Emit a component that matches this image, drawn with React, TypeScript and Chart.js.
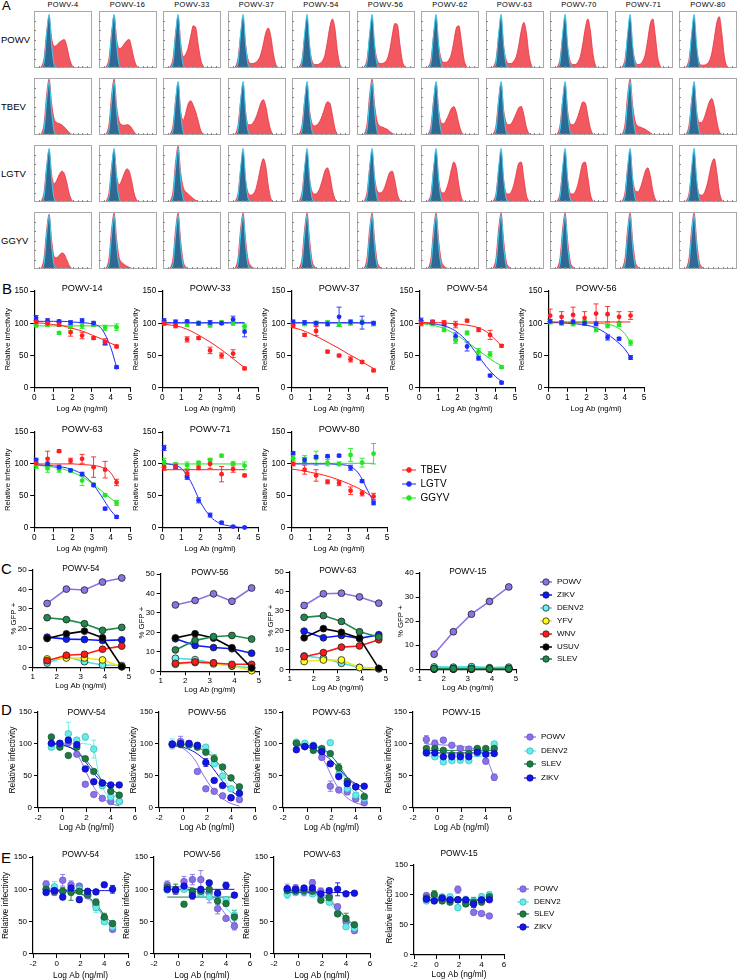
import React, { useEffect, useRef } from "react";
import { Chart, registerables } from "chart.js";
Chart.register(...registerables);

const FONT = "'Liberation Sans', Arial, Helvetica, sans-serif";

// ---------------- Panel A data ----------------
const A_TITLES = ["POWV-4", "POWV-16", "POWV-33", "POWV-37", "POWV-54", "POWV-56", "POWV-62", "POWV-63", "POWV-70", "POWV-71", "POWV-80"];
const A_ROWS = ["POWV", "TBEV", "LGTV", "GGYV"];
const A_BIN = [0, 1, 2, 3, 4, 5, 6, 7, 8, 9, 10, 11, 12, 13, 14, 15, 16, 17, 18, 19, 20, 21, 22, 23];
const A_ISOTYPE = [0, 0, 0, 1, 10, 60, 94, 40, 6, 1, 0, 0, 0, 0, 0, 0, 0, 0, 0, 0, 0, 0, 0, 0];
const A_POWV = [
  [0, 0, 0, 3, 18, 62, 90, 52, 38, 40, 45, 48, 50, 38, 18, 5, 1, 0, 0, 0, 0, 0, 0, 0],
  [0, 0, 0, 3, 18, 62, 92, 50, 34, 36, 42, 48, 50, 34, 14, 3, 0, 0, 0, 0, 0, 0, 0, 0],
  [0, 0, 0, 3, 18, 62, 90, 45, 20, 24, 36, 56, 74, 70, 40, 14, 3, 0, 0, 0, 0, 0, 0, 0],
  [0, 0, 0, 3, 18, 58, 85, 40, 14, 8, 8, 10, 14, 24, 42, 62, 70, 55, 25, 6, 1, 0, 0, 0],
  [0, 0, 0, 3, 16, 55, 82, 36, 12, 6, 6, 8, 12, 22, 45, 72, 86, 70, 30, 6, 1, 0, 0, 0],
  [0, 0, 0, 3, 16, 55, 82, 38, 14, 8, 8, 10, 16, 32, 58, 78, 76, 42, 12, 2, 0, 0, 0, 0],
  [0, 0, 0, 3, 16, 58, 85, 40, 16, 10, 10, 14, 24, 46, 70, 74, 48, 16, 3, 0, 0, 0, 0, 0],
  [0, 0, 0, 3, 16, 56, 84, 38, 14, 8, 8, 12, 20, 40, 66, 80, 62, 24, 5, 0, 0, 0, 0, 0],
  [0, 0, 0, 3, 16, 55, 82, 36, 12, 6, 6, 10, 20, 42, 70, 86, 66, 26, 5, 0, 0, 0, 0, 0],
  [0, 0, 0, 3, 16, 55, 82, 36, 12, 6, 7, 12, 24, 50, 78, 86, 56, 18, 3, 0, 0, 0, 0, 0],
  [0, 0, 0, 3, 16, 54, 80, 34, 10, 5, 5, 7, 12, 26, 52, 80, 90, 60, 20, 3, 0, 0, 0, 0],
];
const A_TBEV = [
  [0, 0, 0, 3, 20, 70, 98, 55, 28, 22, 20, 18, 14, 9, 4, 1, 0, 0, 0, 0, 0, 0, 0, 0],
  [0, 0, 0, 3, 20, 70, 98, 50, 24, 18, 17, 18, 17, 12, 5, 1, 0, 0, 0, 0, 0, 0, 0, 0],
  [0, 0, 0, 3, 18, 62, 90, 42, 26, 38, 55, 60, 52, 40, 24, 8, 2, 0, 0, 0, 0, 0, 0, 0],
  [0, 0, 0, 3, 18, 60, 88, 40, 18, 18, 22, 30, 42, 56, 62, 50, 26, 8, 1, 0, 0, 0, 0, 0],
  [0, 0, 0, 3, 18, 60, 88, 42, 20, 16, 18, 24, 34, 48, 58, 56, 36, 12, 2, 0, 0, 0, 0, 0],
  [0, 0, 0, 3, 20, 70, 98, 52, 24, 16, 14, 12, 10, 6, 3, 1, 0, 0, 0, 0, 0, 0, 0, 0],
  [0, 0, 0, 3, 18, 62, 90, 44, 22, 20, 26, 36, 46, 50, 40, 20, 6, 1, 0, 0, 0, 0, 0, 0],
  [0, 0, 0, 3, 18, 62, 90, 44, 22, 18, 20, 28, 38, 48, 50, 36, 14, 3, 0, 0, 0, 0, 0, 0],
  [0, 0, 0, 3, 18, 60, 88, 42, 20, 18, 22, 32, 46, 58, 56, 34, 12, 2, 0, 0, 0, 0, 0, 0],
  [0, 0, 0, 3, 20, 70, 98, 52, 24, 16, 14, 12, 10, 7, 4, 1, 0, 0, 0, 0, 0, 0, 0, 0],
  [0, 0, 0, 3, 18, 60, 88, 42, 22, 22, 30, 44, 58, 64, 50, 24, 6, 1, 0, 0, 0, 0, 0, 0],
];
const A_LGTV = [
  [0, 0, 0, 3, 18, 62, 90, 48, 32, 38, 48, 54, 50, 34, 14, 3, 0, 0, 0, 0, 0, 0, 0, 0],
  [0, 0, 0, 3, 18, 62, 90, 46, 30, 38, 50, 58, 54, 36, 14, 3, 0, 0, 0, 0, 0, 0, 0, 0],
  [0, 0, 0, 3, 20, 70, 98, 52, 26, 18, 14, 10, 6, 3, 1, 0, 0, 0, 0, 0, 0, 0, 0, 0],
  [0, 0, 0, 3, 16, 56, 84, 38, 16, 12, 14, 22, 40, 62, 76, 62, 28, 6, 1, 0, 0, 0, 0, 0],
  [0, 0, 0, 3, 18, 58, 86, 40, 18, 14, 16, 24, 38, 54, 60, 48, 22, 6, 1, 0, 0, 0, 0, 0],
  [0, 0, 0, 3, 18, 60, 88, 42, 20, 16, 18, 26, 40, 52, 54, 38, 14, 3, 0, 0, 0, 0, 0, 0],
  [0, 0, 0, 3, 16, 58, 86, 40, 18, 16, 22, 36, 56, 70, 60, 30, 8, 1, 0, 0, 0, 0, 0, 0],
  [0, 0, 0, 3, 16, 56, 84, 38, 16, 14, 18, 30, 50, 68, 70, 42, 12, 2, 0, 0, 0, 0, 0, 0],
  [0, 0, 0, 3, 16, 56, 84, 38, 16, 14, 18, 30, 50, 68, 70, 44, 14, 2, 0, 0, 0, 0, 0, 0],
  [0, 0, 0, 3, 18, 60, 88, 42, 20, 18, 24, 38, 54, 60, 46, 20, 5, 1, 0, 0, 0, 0, 0, 0],
  [0, 0, 0, 3, 16, 54, 82, 36, 14, 12, 16, 28, 48, 68, 76, 52, 18, 3, 0, 0, 0, 0, 0, 0],
];
const A_GGYV = [
  [0, 0, 0, 3, 20, 68, 96, 50, 22, 20, 24, 28, 26, 16, 6, 1, 0, 0, 0, 0, 0, 0, 0, 0],
  [0, 0, 0, 3, 20, 70, 98, 52, 20, 12, 8, 5, 3, 1, 0, 0, 0, 0, 0, 0, 0, 0, 0, 0],
  [0, 0, 0, 3, 20, 70, 98, 50, 14, 4, 1, 0, 0, 0, 0, 0, 0, 0, 0, 0, 0, 0, 0, 0],
  [0, 0, 0, 3, 20, 70, 98, 50, 16, 6, 2, 1, 0, 0, 0, 0, 0, 0, 0, 0, 0, 0, 0, 0],
  [0, 0, 0, 3, 20, 70, 98, 50, 14, 4, 1, 0, 0, 0, 0, 0, 0, 0, 0, 0, 0, 0, 0, 0],
  [0, 0, 0, 3, 20, 70, 98, 50, 14, 4, 1, 0, 0, 0, 0, 0, 0, 0, 0, 0, 0, 0, 0, 0],
  [0, 0, 0, 3, 20, 70, 98, 50, 16, 6, 2, 1, 0, 0, 0, 0, 0, 0, 0, 0, 0, 0, 0, 0],
  [0, 0, 0, 3, 20, 70, 98, 50, 14, 4, 1, 0, 0, 0, 0, 0, 0, 0, 0, 0, 0, 0, 0, 0],
  [0, 0, 0, 3, 20, 70, 98, 50, 14, 4, 1, 0, 0, 0, 0, 0, 0, 0, 0, 0, 0, 0, 0, 0],
  [0, 0, 0, 3, 20, 70, 98, 50, 14, 4, 1, 0, 0, 0, 0, 0, 0, 0, 0, 0, 0, 0, 0, 0],
  [0, 0, 0, 3, 20, 70, 98, 50, 14, 4, 1, 0, 0, 0, 0, 0, 0, 0, 0, 0, 0, 0, 0, 0],
];

// ---------------- Panel B data ----------------
const B_X = [0.1, 0.7, 1.3, 1.9, 2.5, 3.1, 3.7, 4.3];
const B_FIT_X = [0, 0.5, 1, 1.5, 2, 2.5, 3, 3.5, 4, 4.3];
const B_VIRUSES = ["TBEV", "LGTV", "GGYV"];
const B_TITLES = ["POWV-14", "POWV-33", "POWV-37", "POWV-54", "POWV-56", "POWV-63", "POWV-71", "POWV-80"];
const B_TBEV = [
  [102, 100, 98, 86, 81, 77, 71, 64],
  [100, 96, 75, 77, 58, 50, 53, 30],
  [96, 82, 88, 56, 50, 44, 40, 27],
  [100, 102, 101, 98, 104, 90, 82, 65],
  [112, 110, 113, 108, 115, 114, 110, 112],
  [101, 108, 120, 105, 108, 95, 91, 71],
  [95, 96, 85, 94, 100, 84, 92, 82],
  [100, 91, 82, 72, 70, 58, 54, 49],
];
const B_TBEV_ERR = [
  [3, 3, 3, 6, 5, 2, 5, 2],
  [3, 3, 4, 2, 5, 4, 6, 2],
  [3, 2, 7, 2, 2, 4, 2, 2],
  [4, 3, 3, 5, 2, 3, 7, 2],
  [10, 8, 12, 10, 15, 12, 8, 6],
  [6, 12, 2, 4, 7, 16, 13, 5],
  [5, 4, 5, 3, 7, 12, 5, 2],
  [3, 7, 9, 3, 4, 6, 4, 5],
];
const B_LGTV = [
  [108, 104, 103, 101, 104, 100, 70, 32],
  [104, 102, 103, 100, 101, 100, 106, 87],
  [102, 101, 100, 99, 110, 102, 101, 100],
  [104, 101, 99, 80, 64, 46, 19, 8],
  [103, 101, 102, 100, 99, 78, 76, 47],
  [106, 100, 95, 90, 84, 67, 30, 17],
  [125, 96, 79, 43, 20, 8, 2, 0.5],
  [117, 106, 111, 112, 113, 94, 73, 39],
];
const B_LGTV_ERR = [
  [4, 3, 2, 3, 3, 3, 3, 2],
  [3, 3, 2, 3, 3, 2, 5, 8],
  [3, 3, 3, 3, 15, 3, 10, 3],
  [4, 3, 3, 5, 7, 3, 2, 2],
  [3, 3, 3, 3, 3, 4, 2, 3],
  [3, 3, 3, 2, 3, 2, 2, 2],
  [4, 3, 3, 4, 3, 2, 1, 1],
  [2, 4, 2, 2, 2, 4, 2, 3],
];
const B_GGYV = [
  [97, 98, 85, 95, 96, 98, 93, 94],
  [101, 99, 98, 100, 97, 101, 100, 95],
  [100, 99, 100, 101, 98, 100, 102, 99],
  [100, 99, 90, 73, 85, 56, 52, 32],
  [102, 100, 99, 101, 90, 96, 98, 70],
  [98, 93, 91, 90, 74, 67, 51, 39],
  [103, 99, 98, 102, 106, 113, 101, 97],
  [109, 108, 109, 102, 100, 114, 102, 116],
];
const B_GGYV_ERR = [
  [3, 3, 2, 6, 4, 3, 4, 5],
  [3, 3, 3, 3, 3, 3, 3, 4],
  [3, 3, 3, 3, 3, 3, 3, 3],
  [3, 3, 3, 4, 3, 5, 4, 2],
  [3, 3, 3, 3, 3, 3, 3, 4],
  [5, 6, 4, 3, 8, 3, 2, 4],
  [6, 3, 5, 2, 3, 2, 2, 6],
  [4, 5, 11, 5, 3, 10, 7, 16],
];
const B_TBEV_FIT = [
  [101, 100, 98, 96, 92, 88, 82, 76, 69, 65],
  [99, 97, 94, 88, 80, 71, 61, 50, 38, 31],
  [94, 90, 84, 77, 69, 61, 52, 44, 35, 30],
  [101, 101, 101, 100, 99, 97, 94, 87, 74, 65],
  [102, 102, 102, 102, 102, 102, 102, 102, 102, 102],
  [100, 100, 100, 100, 100, 99, 98, 95, 86, 71],
  [91, 91, 91, 91, 91, 91, 91, 91, 91, 91],
  [92, 90, 87, 84, 80, 75, 69, 62, 53, 47],
];
const B_LGTV_FIT = [
  [103, 103, 103, 103, 102, 101, 99, 92, 62, 32],
  [101, 101, 101, 101, 101, 101, 101, 101, 101, 101],
  [101, 101, 101, 101, 101, 101, 101, 101, 101, 101],
  [101, 100, 98, 94, 86, 72, 53, 33, 17, 10],
  [101, 101, 100, 99, 97, 93, 85, 74, 60, 47],
  [99, 98, 97, 95, 91, 84, 71, 50, 27, 17],
  [101, 99, 93, 72, 40, 18, 7, 3, 1, 0.5],
  [100, 100, 100, 100, 100, 99, 97, 86, 58, 40],
];
const B_GGYV_FIT = [
  [96, 96, 96, 96, 96, 96, 96, 96, 96, 96],
  [100, 100, 100, 100, 100, 100, 100, 100, 100, 100],
  [100, 100, 100, 100, 100, 100, 100, 100, 100, 100],
  [100, 98, 95, 89, 81, 71, 60, 49, 39, 34],
  [101, 101, 101, 101, 100, 100, 99, 95, 84, 70],
  [98, 97, 95, 92, 87, 80, 70, 58, 46, 39],
  [100, 100, 100, 100, 100, 100, 100, 100, 100, 100],
  [101, 101, 101, 101, 101, 101, 101, 101, 101, 101],
];

// ---------------- Panel C data ----------------
const C_X = [1.6, 2.4, 3.15, 3.9, 4.7];
const C_TITLES = ["POWV-54", "POWV-56", "POWV-63", "POWV-15"];
const C_VIRUSES = ["POWV", "ZIKV", "DENV2", "YFV", "WNV", "USUV", "SLEV"];
const C_POWV = [[32.8, 40.2, 39.7, 43.8, 45.9], [34.1, 36.4, 39.8, 36, 42.8], [32.8, 38.8, 39.1, 37.2, 34], [6.3, 15.6, 22.9, 28.2, 34.2]];
const C_ZIKV = [[15.5, 14.5, 14.3, 13.8, 14.1], [16.7, 13.3, 12.2, 11.6, 9.3], [19.6, 16.2, 17.4, 15.9, 17.8], [0.1, 0.1, 0.1, 0.1, 0.1]];
const C_DENV2 = [[2.2, 5.5, 2.9, 1.2, 0.9], [6.7, 6, 4.3, 2.6, 1.9], [6.9, 5.7, 3.1, 1, 0.4], [1, 0.9, 1.1, 0.7, 0.9]];
const C_YFV = [[4.3, 4.8, 4.8, 3.8, 0.3], [3.6, 4.5, 3.8, 2.9, 0.3], [4, 4.8, 4.8, 0.9, 0.2], [0.3, 0.3, 0.3, 0.3, 0.3]];
const C_WNV = [[3.4, 6.2, 6.7, 9.3, 10.9], [4.1, 4.8, 4.3, 3.6, 3.6], [6.5, 8.6, 11.4, 12, 15.2], [0.2, 0.2, 0.2, 0.2, 0.2]];
const C_USUV = [[14.8, 17.2, 18.6, 15.2, 0.3], [17.2, 19.3, 17.1, 12.1, 1.7], [16.2, 20.9, 19, 16, 0.5], [0.1, 0.1, 0.1, 0.1, 0.1]];
const C_SLEV = [[25.5, 24.5, 22.4, 19, 20.5], [11, 15.9, 17.8, 18.4, 16.6], [26.7, 27.6, 24.6, 19.3, 16.6], [0.3, 0.3, 0.3, 0.3, 0.3]];

// ---------------- Panels D & E data ----------------
const DE_X = [-0.9, -0.2, 0.5, 1.2, 1.9, 2.6, 3.3, 4.0, 4.7];
const DE_FIT_X = [-0.9, 0, 1, 1.5, 2, 2.5, 3, 3.5, 4, 4.7];
const DE_TITLES = ["POWV-54", "POWV-56", "POWV-63", "POWV-15"];
const DE_VIRUSES = ["POWV", "DENV2", "SLEV", "ZIKV"];

const D_POWV = [[100, 101, 102, 84, 37, 21, 15, 10, 10], [99, 104, 99, 57, 30, 26, 19, 16, 13], [101, 96, 94, 79, 34, 28, 25, 14, 8], [107, 101, 106, 98, 93, 92, 92, 73, 48]];
const D_DENV2 = [[95, 98, 116, 106, 111, 92, 35, 17, 10], [100, 102, 98, 97, 95, 69, 50, 30, 22], [103, 101, 98, 90, 102, 52, 30, 20, 15], [88, 80, 72, 74, 75, 74, 85, 88, 100]];
const D_SLEV = [[111, 95, 82, 95, 77, 57, 39, 26, 20], [99, 99, 99, 95, 87, 77, 64, 47, 33], [101, 96, 90, 93, 85, 63, 42, 33, 18], [93, 93, 90, 83, 83, 85, 93, 93, 93]];
const D_ZIKV = [[101, 101, 106, 99, 61, 41, 39, 36, 36], [100, 101, 101, 98, 71, 43, 35, 16, 23], [91, 96, 97, 88, 69, 49, 38, 33, 34], [86, 86, 80, 80, 80, 80, 87, 84, 85]];
const D_POWV_ERR = [[3, 3, 3, 3, 3, 3, 3, 3, 3], [5, 8, 3, 3, 3, 3, 3, 3, 3], [3, 3, 3, 3, 8, 3, 3, 3, 3], [6, 5, 3, 3, 3, 3, 3, 4, 5]];
const D_DENV2_ERR = [[3, 3, 18, 4, 5, 14, 5, 3, 3], [8, 3, 3, 3, 3, 3, 3, 3, 3], [3, 3, 3, 3, 3, 4, 3, 3, 3], [3, 3, 3, 3, 5, 3, 3, 3, 3]];
const D_SLEV_ERR = [[3, 3, 3, 3, 3, 3, 3, 3, 3], [3, 3, 3, 3, 3, 6, 3, 3, 3], [3, 3, 3, 3, 3, 6, 3, 3, 3], [3, 3, 3, 3, 3, 3, 3, 3, 3]];
const D_ZIKV_ERR = [[3, 3, 4, 3, 3, 3, 3, 3, 3], [3, 3, 3, 3, 6, 3, 3, 3, 3], [3, 3, 3, 3, 3, 3, 3, 3, 3], [3, 3, 3, 3, 3, 3, 3, 3, 3]];
const D_POWV_FIT = [[101, 99, 90, 75, 55, 36, 22, 13, 7, 3], [98, 93, 75, 58, 42, 29, 19, 12, 7, 3], [100, 97, 85, 70, 50, 33, 21, 13, 8, 4], [100, 99, 98, 97, 96, 95, 93, 90, 80, 48]];
const D_DENV2_FIT = [[101, 101, 101, 101, 100, 97, 55, 25, 19, 18], [101, 100, 99, 97, 93, 83, 65, 45, 28, 17], [101, 100, 96, 91, 82, 68, 50, 33, 22, 14], [81, 81, 81, 81, 81, 81, 81, 81, 81, 81]];
const D_SLEV_FIT = [[100, 98, 91, 84, 74, 62, 50, 38, 29, 22], [100, 99, 96, 92, 87, 79, 68, 56, 45, 33], [100, 98, 94, 89, 81, 70, 56, 43, 34, 23], [90, 90, 90, 90, 90, 90, 90, 90, 90, 90]];
const D_ZIKV_FIT = [[101, 99, 91, 82, 70, 56, 46, 40, 37, 35], [98, 95, 87, 80, 72, 62, 49, 37, 27, 18], [98, 95, 88, 82, 74, 64, 53, 44, 38, 32], [86, 86, 86, 86, 86, 86, 86, 86, 86, 86]];

const E_POWV = [[108, 95, 114, 107, 105, 90, 75, 55, 38], [107, 97, 112, 115, 115, 95, 70, 55, 43], [100, 102, 96, 110, 97, 90, 73, 50, 36], [99, 92, 95, 92, 109, 88, 71, 69, 65]];
const E_DENV2 = [[100, 104, 97, 97, 100, 92, 72, 50, 42], [99, 99, 100, 95, 93, 88, 92, 84, 60], [92, 95, 97, 93, 88, 80, 63, 42, 40], [90, 97, 97, 97, 79, 90, 90, 97, 100]];
const E_SLEV = [[100, 97, 97, 95, 97, 92, 80, 57, 47], [103, 100, 77, 97, 97, 100, 82, 78, 57], [98, 97, 98, 97, 83, 87, 62, 55, 45], [95, 101, 90, 88, 92, 85, 88, 88, 97]];
const E_ZIKV = [[95, 98, 88, 102, 84, 97, 96, 107, 100], [100, 99, 105, 90, 100, 110, 94, 106, 91], [101, 100, 102, 102, 93, 98, 100, 93, 94], [93, 90, 95, 92, 92, 92, 85, 92, 92]];
const E_POWV_ERR = [[5, 4, 9, 6, 4, 3, 8, 6, 3], [6, 4, 8, 8, 14, 16, 8, 3, 6], [8, 5, 6, 5, 5, 4, 4, 3, 3], [4, 5, 4, 4, 6, 5, 3, 3, 3]];
const E_DENV2_ERR = [[4, 8, 4, 3, 4, 3, 8, 4, 3], [4, 3, 3, 4, 4, 3, 4, 4, 8], [6, 4, 5, 4, 4, 3, 4, 3, 3], [4, 4, 3, 3, 4, 8, 3, 5, 6]];
const E_SLEV_ERR = [[8, 4, 6, 12, 4, 3, 5, 6, 4], [5, 8, 3, 3, 3, 3, 5, 4, 10], [4, 3, 3, 3, 3, 4, 3, 8, 4], [3, 6, 3, 3, 4, 4, 8, 4, 7]];
const E_ZIKV_ERR = [[3, 3, 4, 3, 4, 3, 3, 3, 6], [3, 3, 3, 5, 3, 3, 5, 5, 3], [3, 3, 3, 3, 5, 3, 10, 3, 3], [3, 3, 3, 3, 3, 3, 6, 3, 3]];
const E_POWV_FIT = [[101, 100, 99, 97, 94, 89, 81, 70, 56, 38], [104, 104, 103, 101, 98, 93, 84, 73, 60, 42], [100, 100, 99, 97, 93, 87, 78, 67, 55, 37], [96, 95, 94, 94, 93, 91, 83, 74, 69, 65]];
const E_DENV2_FIT = [[97, 97, 96, 94, 92, 87, 79, 68, 55, 42], [99, 99, 98, 97, 96, 93, 88, 81, 71, 58], [97, 96, 94, 90, 86, 80, 71, 61, 52, 42], [93, 93, 93, 93, 93, 93, 93, 93, 93, 93]];
const E_SLEV_FIT = [[97, 97, 96, 95, 93, 89, 83, 73, 60, 47], [88, 88, 88, 88, 88, 88, 88, 88, 88, 88], [98, 98, 96, 93, 90, 84, 75, 65, 55, 45], [91, 91, 91, 91, 91, 91, 91, 91, 91, 91]];
const E_ZIKV_FIT = [[98, 98, 98, 98, 98, 98, 98, 98, 98, 98], [100, 100, 100, 100, 100, 100, 100, 100, 100, 100], [95, 95, 95, 95, 95, 95, 95, 95, 95, 95], [92, 92, 92, 92, 92, 92, 92, 92, 92, 92]];

// ---------------- Colours ----------------
const COL_B: Record<string, string> = { TBEV: "#ff1f1f", LGTV: "#1f2bff", GGYV: "#22e622" };
const COL_C: Record<string, [string, string]> = {
  POWV: ["#8c72e6", "#8c72e6"],
  ZIKV: ["#0a18ff", "#0a18ff"],
  DENV2: ["#6af2f0", "#4fe0e0"],
  YFV: ["#ffff1a", "#f0e81a"],
  WNV: ["#ff1a1a", "#ff1a1a"],
  USUV: ["#000000", "#000000"],
  SLEV: ["#1e8a4c", "#1e8a4c"],
};
const COL_DE: Record<string, [string, string]> = {
  POWV: ["#8a72e8", "#6a52c8"],
  DENV2: ["#66ece9", "#34b8b8"],
  SLEV: ["#1c7a42", "#125a30"],
  ZIKV: ["#1414e6", "#0a0aa8"],
};

// ---------------- helpers ----------------
type Box = { left: number; top: number; width: number; height: number };
type Item = { key: string; box: Box; make: () => any };

function ChartBox({ box, make }: { box: Box; make: () => any }) {
  const ref = useRef<HTMLCanvasElement | null>(null);
  useEffect(() => {
    const c = ref.current;
    if (!c) return;
    const chart = new Chart(c, make());
    return () => chart.destroy();
  }, []);
  return (
    <canvas
      ref={ref}
      width={Math.round(box.width)}
      height={Math.round(box.height)}
      style={{ position: "absolute", left: box.left, top: box.top, width: Math.round(box.width), height: Math.round(box.height) }}
    />
  );
}

function Txt(p: { x: number; y: number; size: number; children: any; anchor?: string; spacing?: number }) {
  const tx = p.anchor === "start" ? "0" : p.anchor === "end" ? "-100%" : "-50%";
  return (
    <div
      style={{
        position: "absolute",
        left: p.x,
        top: p.y,
        transform: `translate(${tx},-50%)`,
        fontSize: p.size,
        lineHeight: 1,
        whiteSpace: "nowrap",
        letterSpacing: p.spacing || 0,
      }}
    >
      {p.children}
    </div>
  );
}

function LegendItem(p: { x: number; y: number; fill: string; line: string; border: string; label: string; size: number; r: number; half: number; lw: number }) {
  const w = p.half * 2 + 2;
  return (
    <>
      <svg style={{ position: "absolute", left: p.x - p.half - 1, top: p.y - 6 }} width={w} height={12}>
        <line x1={1} y1={6} x2={w - 1} y2={6} stroke={p.line} strokeWidth={p.lw} />
        <circle cx={w / 2} cy={6} r={p.r} fill={p.fill} stroke={p.border} strokeWidth={0.8} />
      </svg>
      <Txt x={p.x + p.half + 5} y={p.y} size={p.size} anchor="start">
        {p.label}
      </Txt>
    </>
  );
}

const errorBarPlugin = {
  id: "errorBars",
  beforeDatasetsDraw(chart: any) {
    const ctx = chart.ctx;
    const xs = chart.scales.x;
    const ys = chart.scales.y;
    chart.data.datasets.forEach((ds: any) => {
      if (!ds.errors) return;
      ctx.save();
      ctx.strokeStyle = ds.errColor;
      ctx.lineWidth = 0.9;
      ds.data.forEach((p: any, i: number) => {
        const e = ds.errors[i];
        if (!e) return;
        const px = xs.getPixelForValue(p.x);
        const a = ys.getPixelForValue(p.y + e);
        const b = ys.getPixelForValue(Math.max(p.y - e, ys.min));
        ctx.beginPath();
        ctx.moveTo(px, a);
        ctx.lineTo(px, b);
        ctx.moveTo(px - 2.5, a);
        ctx.lineTo(px + 2.5, a);
        ctx.moveTo(px - 2.5, b);
        ctx.lineTo(px + 2.5, b);
        ctx.stroke();
      });
      ctx.restore();
    });
  },
};

function titlePlugin(text: string, size: number, dy: number) {
  return {
    id: "plotTitle",
    afterDraw(chart: any) {
      const { ctx, chartArea } = chart;
      ctx.save();
      ctx.font = `${size}px ${FONT}`;
      ctx.fillStyle = "#000";
      ctx.textAlign = "center";
      ctx.textBaseline = "middle";
      ctx.fillText(text, (chartArea.left + chartArea.right) / 2, chartArea.top + dy);
      ctx.restore();
    },
  };
}

type SeriesSpec = {
  fill: string;
  line: string;
  border: string;
  x: number[];
  y: number[];
  err?: number[];
  fitX?: number[];
  fit?: number[];
  connect?: boolean;
};

type PlotSpec = {
  x0: number; x1: number; y0: number; y1: number;
  xMin: number; xMax: number; xStep: number;
  yMax: number; yStep: number;
  title: string; titleDy: number; titleSize: number;
  xTitle: string; xTitleDy: number; yTitle: string; yTitleDx: number; axisTitleSize: number;
  tickSize: number; pointR: number; pointBorderW: number; lineW: number;
  series: SeriesSpec[];
};

function plot(key: string, s: PlotSpec): Item {
  const lh = s.axisTitleSize * 1.2;
  const L = s.yTitleDx + lh / 2;
  const B = s.xTitleDy + lh / 2;
  const T = 16;
  const R = 8;
  const box = { left: s.x0 - L, top: s.y0 - T, width: s.x1 - s.x0 + L + R, height: s.y1 - s.y0 + T + B };
  const make = () => {
    const datasets: any[] = [];
    s.series.forEach((se) => {
      datasets.push({
        type: "scatter",
        data: se.x.map((xv, i) => ({ x: xv, y: se.y[i] })),
        showLine: !!se.connect,
        borderColor: se.line,
        borderWidth: s.lineW,
        pointBackgroundColor: se.fill,
        pointBorderColor: se.border,
        pointBorderWidth: s.pointBorderW,
        pointRadius: s.pointR,
        pointHoverRadius: s.pointR,
        errors: se.err,
        errColor: se.line,
        order: 0,
        clip: false,
      });
      if (se.fit && se.fitX) {
        datasets.push({
          type: "line",
          data: se.fitX.map((xv, i) => ({ x: xv, y: se.fit![i] })),
          showLine: true,
          borderColor: se.line,
          borderWidth: 1,
          pointRadius: 0,
          fill: false,
          cubicInterpolationMode: "monotone",
          order: 1,
        });
      }
    });
    const tickFont = { family: FONT, size: s.tickSize };
    const titleFont = { family: FONT, size: s.axisTitleSize };
    return {
      type: "scatter",
      data: { datasets },
      options: {
        animation: false,
        responsive: false,
        events: [],
        layout: { padding: { top: T, right: R, left: 0, bottom: 0 } },
        plugins: { legend: { display: false }, tooltip: { enabled: false } },
        scales: {
          x: {
            type: "linear",
            min: s.xMin,
            max: s.xMax,
            ticks: { stepSize: s.xStep, font: tickFont, color: "#000", padding: 1, maxRotation: 0, autoSkip: false },
            grid: { display: true, drawOnChartArea: false, drawTicks: true, tickLength: 4, color: "#000", lineWidth: 1 },
            border: { display: true, color: "#000", width: 1.2 },
            title: { display: true, text: s.xTitle, font: titleFont, color: "#000", padding: { top: 0, bottom: 0 } },
            afterFit: (sc: any) => {
              sc.height = B;
            },
          },
          y: {
            type: "linear",
            min: 0,
            max: s.yMax,
            ticks: { stepSize: s.yStep, font: tickFont, color: "#000", padding: 2, autoSkip: false },
            grid: { display: true, drawOnChartArea: false, drawTicks: true, tickLength: 4, color: "#000", lineWidth: 1 },
            border: { display: true, color: "#000", width: 1.2 },
            title: { display: true, text: s.yTitle, font: titleFont, color: "#000", padding: { top: 0, bottom: 0 } },
            afterFit: (sc: any) => {
              sc.width = L;
            },
          },
        },
      },
      plugins: [errorBarPlugin, titlePlugin(s.title, s.titleSize, s.titleDy)],
    };
  };
  return { key, box, make };
}

const boxPlugin = {
  id: "histBox",
  afterDraw(chart: any) {
    const { ctx, width, height } = chart;
    ctx.save();
    ctx.strokeStyle = "#a8a8a8";
    ctx.lineWidth = 1;
    ctx.strokeRect(0.5, 0.5, width - 1, height - 1);
    ctx.strokeStyle = "#888";
    for (let i = 1; i < 12; i++) {
      const x = Math.round((width * i) / 12) + 0.5;
      ctx.beginPath();
      ctx.moveTo(x, height);
      ctx.lineTo(x, height - 2);
      ctx.stroke();
    }
    for (let i = 1; i < 6; i++) {
      const y = Math.round((height * i) / 6) + 0.5;
      ctx.beginPath();
      ctx.moveTo(0, y);
      ctx.lineTo(2, y);
      ctx.stroke();
    }
    ctx.restore();
  },
};

function hist(key: string, box: Box, red: number[], blue: number[]): Item {
  const make = () => ({
    type: "line",
    data: {
      datasets: [
        {
          data: A_BIN.map((b, i) => ({ x: b, y: blue[i] })),
          borderColor: "#3fd0f2",
          backgroundColor: "#2f6a94",
          fill: "origin",
          borderWidth: 1,
          pointRadius: 0,
          cubicInterpolationMode: "monotone",
          order: 0,
        },
        {
          data: A_BIN.map((b, i) => ({ x: b, y: red[i] })),
          borderColor: "#e8323e",
          backgroundColor: "#f2585f",
          fill: "origin",
          borderWidth: 0.8,
          pointRadius: 0,
          cubicInterpolationMode: "monotone",
          order: 1,
        },
      ],
    },
    options: {
      animation: false,
      responsive: false,
      events: [],
      layout: { padding: 0 },
      plugins: { legend: { display: false }, tooltip: { enabled: false } },
      scales: {
        x: { type: "linear", min: 0, max: 23, display: false },
        y: { type: "linear", min: 0, max: 100, display: false },
      },
    },
    plugins: [boxPlugin],
  });
  return { key, box, make };
}

// ---------------- layout ----------------
const A_COL_LEFT = 34;
const A_COL_PITCH = 64.5;
const A_BOX_W = 58;
const A_ROW_TOP = [11, 78, 145, 212];
const A_BOX_H = 57;

const B_ROW1_X0 = [34, 162, 291, 419.3, 547.7];
const B_ROW2_X0 = [34.3, 162.3, 291];
const C_X0 = [32.3, 161, 290, 419.3];
const C_X1 = [129, 259, 386, 515.3];
const C_Y0 = [570, 574, 572, 573.3];
const C_Y1 = [667, 671, 669, 669.3];
const D_X0 = [37.7, 159, 282.7, 412.7];
const D_X1 = [135, 255, 380, 510];
const E_X0 = [33.3, 154, 274, 414];
const E_X1 = [128.3, 250, 370, 504.3];
const E_Y0 = [856.7, 856.7, 856.7, 865];
const E_Y1 = [953.3, 953.3, 953.3, 955];
const E_TITLE_DY = [-2, -2, -2, -11];

function buildItems(): Item[] {
  const items: Item[] = [];
  const rows = [A_POWV, A_TBEV, A_LGTV, A_GGYV];
  rows.forEach((row, r) => {
    row.forEach((red, c) => {
      items.push(
        hist(`a-${r}-${c}`, { left: A_COL_LEFT + c * A_COL_PITCH, top: A_ROW_TOP[r], width: A_BOX_W, height: A_BOX_H }, red, A_ISOTYPE)
      );
    });
  });

  const bData = [
    [B_TBEV, B_TBEV_ERR, B_TBEV_FIT],
    [B_LGTV, B_LGTV_ERR, B_LGTV_FIT],
    [B_GGYV, B_GGYV_ERR, B_GGYV_FIT],
  ];
  B_TITLES.forEach((t, k) => {
    const row1 = k < 5;
    const x0 = row1 ? B_ROW1_X0[k] : B_ROW2_X0[k - 5];
    const y0 = row1 ? 291.3 : 432.3;
    const y1 = row1 ? 388.3 : 528.3;
    const series: SeriesSpec[] = B_VIRUSES.map((v, j) => ({
      fill: COL_B[v],
      line: COL_B[v],
      border: COL_B[v],
      x: B_X,
      y: bData[j][0][k],
      err: bData[j][1][k],
      fitX: B_FIT_X,
      fit: bData[j][2][k],
    }));
    items.push(
      plot(`b-${k}`, {
        x0, x1: x0 + 96.2, y0, y1,
        xMin: 0, xMax: 5, xStep: 1, yMax: 150, yStep: 50,
        title: t, titleDy: -3, titleSize: 9.2,
        xTitle: "Log Ab (ng/ml)", xTitleDy: 21.5, yTitle: "Relative infectivity", yTitleDx: 26.5, axisTitleSize: 7.8,
        tickSize: 8.2, pointR: 2.4, pointBorderW: 0, lineW: 1,
        series,
      })
    );
  });

  const cData = [C_POWV, C_ZIKV, C_DENV2, C_YFV, C_WNV, C_USUV, C_SLEV];
  C_TITLES.forEach((t, k) => {
    const series: SeriesSpec[] = C_VIRUSES.map((v, j) => ({
      fill: COL_C[v][0],
      line: COL_C[v][1],
      border: "#222",
      x: C_X,
      y: cData[j][k],
      connect: true,
    })).reverse();
    items.push(
      plot(`c-${k}`, {
        x0: C_X0[k], x1: C_X1[k], y0: C_Y0[k], y1: C_Y1[k],
        xMin: 1, xMax: 5, xStep: 1, yMax: k === 3 ? 40 : 50, yStep: 10,
        title: t, titleDy: -1, titleSize: 8.4,
        xTitle: "Log Ab (ng/ml)", xTitleDy: 19, yTitle: "% GFP +", yTitleDx: 19, axisTitleSize: 7.8,
        tickSize: 8, pointR: 3.4, pointBorderW: 0.8, lineW: 1.6,
        series,
      })
    );
  });

  const dData = [
    [D_POWV, D_POWV_ERR, D_POWV_FIT],
    [D_DENV2, D_DENV2_ERR, D_DENV2_FIT],
    [D_SLEV, D_SLEV_ERR, D_SLEV_FIT],
    [D_ZIKV, D_ZIKV_ERR, D_ZIKV_FIT],
  ];
  const eData = [
    [E_POWV, E_POWV_ERR, E_POWV_FIT],
    [E_DENV2, E_DENV2_ERR, E_DENV2_FIT],
    [E_SLEV, E_SLEV_ERR, E_SLEV_FIT],
    [E_ZIKV, E_ZIKV_ERR, E_ZIKV_FIT],
  ];
  const deSeries = (data: number[][][][], k: number): SeriesSpec[] =>
    DE_VIRUSES.map((v, j) => ({
      fill: COL_DE[v][0],
      line: COL_DE[v][0],
      border: COL_DE[v][1],
      x: DE_X,
      y: data[j][0][k],
      err: data[j][1][k],
      fitX: DE_FIT_X,
      fit: data[j][2][k],
    })).reverse();

  DE_TITLES.forEach((t, k) => {
    items.push(
      plot(`d-${k}`, {
        x0: D_X0[k], x1: D_X1[k], y0: 712.3, y1: 808.3,
        xMin: -2, xMax: 6, xStep: 2, yMax: 150, yStep: 50,
        title: t, titleDy: 1, titleSize: 8.6,
        xTitle: "Log Ab (ng/ml)", xTitleDy: 20, yTitle: "Relative infectivity", yTitleDx: k === 3 ? 24 : 25, axisTitleSize: 8.4,
        tickSize: 8, pointR: 3.3, pointBorderW: 0.7, lineW: 1,
        series: deSeries(dData as any, k),
      })
    );
  });
  DE_TITLES.forEach((t, k) => {
    items.push(
      plot(`e-${k}`, {
        x0: E_X0[k], x1: E_X1[k], y0: E_Y0[k], y1: E_Y1[k],
        xMin: -2, xMax: 6, xStep: 2, yMax: 150, yStep: 50,
        title: t, titleDy: E_TITLE_DY[k], titleSize: 8.4,
        xTitle: "Log Ab (ng/ml)", xTitleDy: k === 3 ? 20 : 22, yTitle: "Relative infectivity", yTitleDx: k === 3 ? 24 : 27, axisTitleSize: 8.4,
        tickSize: 8, pointR: 3.3, pointBorderW: 0.7, lineW: 1,
        series: deSeries(eData as any, k),
      })
    );
  });
  return items;
}

export default function App() {
  const items = buildItems();
  return (
    <div
      style={{
        position: "absolute",
        left: 0,
        top: 0,
        width: 742,
        height: 980,
        background: "#fff",
        color: "#000",
        fontFamily: FONT,
        overflow: "hidden",
      }}
    >
      {/* panel letters */}
      <Txt x={2} y={5} size={13} anchor="start">A</Txt>
      <Txt x={2} y={288} size={15} anchor="start">B</Txt>
      <Txt x={1} y={568} size={15} anchor="start">C</Txt>
      <Txt x={1} y={709} size={15} anchor="start">D</Txt>
      <Txt x={1} y={857} size={15} anchor="start">E</Txt>

      {/* panel A titles */}
      {A_TITLES.map((t, c) => (
        <Txt key={t} x={A_COL_LEFT + c * A_COL_PITCH + A_BOX_W / 2} y={5} size={7.4} spacing={0.4}>
          {t}
        </Txt>
      ))}
      {A_ROWS.map((r, i) => (
        <Txt key={r} x={1} y={A_ROW_TOP[i] + A_BOX_H / 2} size={9.5} anchor="start">
          {r}
        </Txt>
      ))}

      {items.map((it) => (
        <ChartBox key={it.key} box={it.box} make={it.make} />
      ))}

      {/* legend B */}
      {B_VIRUSES.map((v, i) => (
        <LegendItem key={v} x={408.5} y={470 + i * 14} fill={COL_B[v]} line={COL_B[v]} border={COL_B[v]} label={v} size={10} r={2.4} half={7} lw={1} />
      ))}
      {/* legend C */}
      {C_VIRUSES.map((v, i) => (
        <LegendItem key={v} x={546} y={582 + i * 12.9} fill={COL_C[v][0]} line={COL_C[v][1]} border="#222" label={v} size={8} r={3.2} half={6} lw={1.5} />
      ))}
      {/* legend D */}
      {DE_VIRUSES.map((v, i) => (
        <LegendItem key={v} x={530} y={737 + i * 13.7} fill={COL_DE[v][0]} line={COL_DE[v][0]} border={COL_DE[v][1]} label={v} size={8} r={3.2} half={6} lw={1.2} />
      ))}
      {/* legend E */}
      {DE_VIRUSES.map((v, i) => (
        <LegendItem key={v} x={523} y={889 + i * 12.7} fill={COL_DE[v][0]} line={COL_DE[v][0]} border={COL_DE[v][1]} label={v} size={8} r={3.2} half={6} lw={1.2} />
      ))}
    </div>
  );
}
